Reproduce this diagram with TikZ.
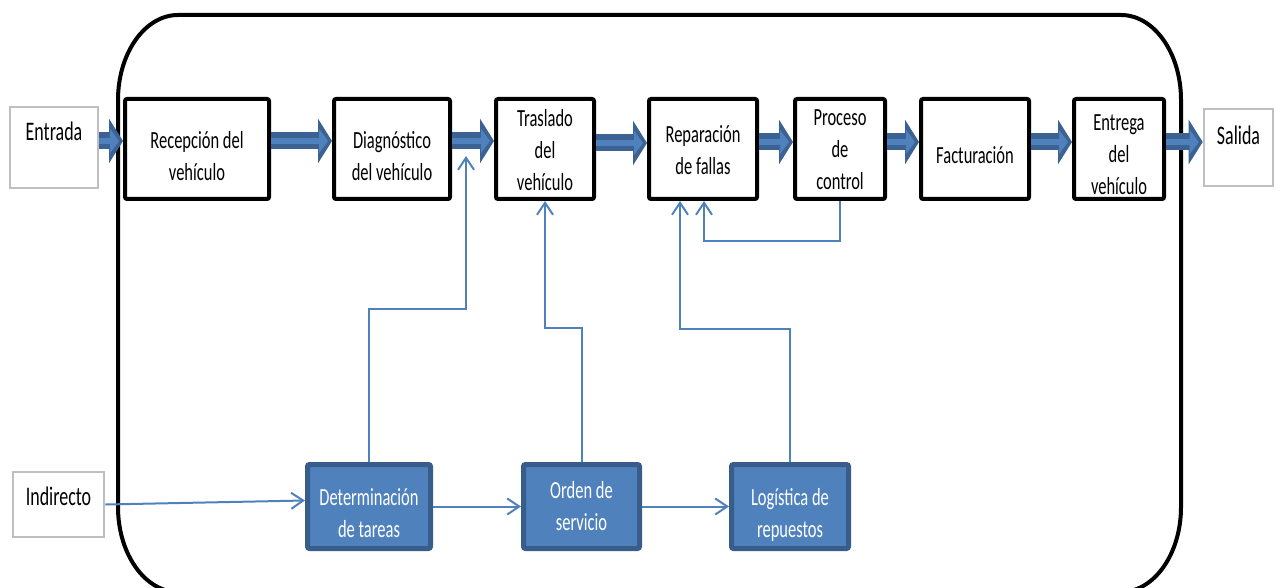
\documentclass[tikz,border=0pt]{standalone}
\usepackage{fontspec}
\setmainfont{Carlito}[FakeStretch=0.67]
\usetikzlibrary{arrows.meta}
\definecolor{arrowdark}{HTML}{3C6294}
\definecolor{arrowlight}{HTML}{4F81BD}
\definecolor{linkblue}{HTML}{4F81BD}
\definecolor{boxfill}{HTML}{4F81BD}
\definecolor{boxedge}{HTML}{385D8A}
\definecolor{grayedge}{HTML}{BFBFBF}
\newcommand{\blockarr}[2]{%
  \draw[barouter] #1 -- #2;
  \draw[barinner] #1 -- #2;}
\begin{document}
\begin{tikzpicture}[x=0.5pt,y=-0.5pt,
  txt/.style={font=\fontsize{12.3pt}{16pt}\selectfont, align=center, inner sep=0pt},
  procbox/.style={draw=black, line width=2pt, rounded corners=1pt, fill=white, minimum height=50pt},
  termbox/.style={txt, font=\fontsize{13.4pt}{16pt}\selectfont, draw=grayedge, line width=1.3pt, fill=white},
  bluebox/.style={draw=boxedge, line width=2.5pt, fill=boxfill, rounded corners=1pt, minimum height=42pt},
  wtxt/.style={txt, text=white},
  frame/.style={draw=black, line width=2pt},
  barouter/.style={line width=8.5pt, draw=arrowdark, -{Triangle[length=7pt,width=22pt]}},
  barinner/.style={line width=3pt, draw=arrowlight, -{Triangle[length=4.5pt,width=12pt]}, shorten >=2pt},
  conn/.style={draw=linkblue, line width=1pt, -{Straight Barb[length=6pt,width=8pt]}}]
\useasboundingbox (0,0) rectangle (1283,588);

% outer rounded frame
\draw[frame] (118,100) .. controls (118,53) and (145,15) .. (178,15) -- (1121,15)
  .. controls (1154,15) and (1181,53) .. (1181,100) -- (1181,507)
  .. controls (1181,554) and (1154,592) .. (1121,592) -- (178,592)
  .. controls (145,592) and (118,554) .. (118,507) -- cycle;

% terminals
\node[termbox, minimum width=44pt, minimum height=40.5pt, text height=8pt, text depth=15pt] (ent) at (54,147.5) {Entrada};
\node[termbox, minimum width=34.5pt, minimum height=38.5pt, text height=8pt, text depth=11pt] (sal) at (1238.5,147.5) {Salida};
\node[termbox, minimum width=45.5pt, minimum height=32.5pt, text height=8pt, text depth=7pt] (ind) at (58.5,504.5) {Indirecto};

% process boxes
\node[procbox, minimum width=72pt, label={[txt, yshift=-3.5pt]center:{Recepción del\\vehículo}}] (rec) at (197,149) {};
\node[procbox, minimum width=58pt, label={[txt, yshift=-3.5pt]center:{Diagnóstico\\del vehículo}}] (diag) at (392,149) {};
\node[procbox, minimum width=49pt, label={[txt, yshift=-0.5pt]center:{Traslado\\del\\vehículo}}] (tras) at (545,149) {};
\node[procbox, minimum width=54pt, label={[txt, yshift=-0.5pt]center:{Reparación\\de fallas}}] (rep) at (703,149) {};
\node[procbox, minimum width=45pt, label={[txt, yshift=-0.5pt]center:{Proceso\\de\\control}}] (proc) at (840,149) {};
\node[procbox, minimum width=54pt, label={[txt, yshift=-3pt]center:{Facturación}}] (fact) at (975,149) {};
\node[procbox, minimum width=45pt, label={[txt, yshift=-3pt]center:{Entrega\\del\\vehículo}}] (entr) at (1119,149) {};

% blue boxes
\node[bluebox, minimum width=61.5pt, label={[wtxt, yshift=-3.5pt]center:{Determinación\\de tareas}}] (det) at (369,506.5) {};
\node[bluebox, minimum width=58pt, label={[wtxt, yshift=0pt]center:{Orden de\\servicio}}] (ord) at (581.5,506.5) {};
\node[bluebox, minimum width=58.5pt, label={[wtxt, yshift=-4pt]center:{Logística de\\repuestos}}] (log) at (790,506.5) {};

% block arrows
\blockarr{(ent.east |- 0,141)}{(rec.west |- 0,141)}
\blockarr{(rec.east |- 0,141)}{(diag.west |- 0,141)}
\blockarr{(diag.east |- 0,141)}{(tras.west |- 0,141)}
\blockarr{(tras.east |- 0,143)}{(rep.west |- 0,143)}
\blockarr{(rep.east |- 0,142)}{(proc.west |- 0,142)}
\blockarr{(proc.east |- 0,142)}{(fact.west |- 0,142)}
\blockarr{(fact.east |- 0,142)}{(entr.west |- 0,142)}
\blockarr{(entr.east |- 0,142)}{(sal.west |- 0,142)}

% thin connectors
\coordinate (dtip) at (466,156);
\draw[conn] (det.north) -- (det.north |- 0,309) -| (dtip);
\draw[conn] (ord.north) -- (ord.north |- 0,328) -| (tras.south);
\draw[conn] (log.north) -- (log.north |- 0,329) -| ([xshift=-11.5pt]rep.south);
\draw[conn] (proc.south) -- (proc.south |- 0,241) -| ([xshift=0.5pt]rep.south);
\draw[conn] (ind.east) -- ([yshift=3pt]det.west);
\draw[conn] (det.east) -- (ord.west);
\draw[conn] (ord.east) -- (log.west);
\end{tikzpicture}
\end{document}
